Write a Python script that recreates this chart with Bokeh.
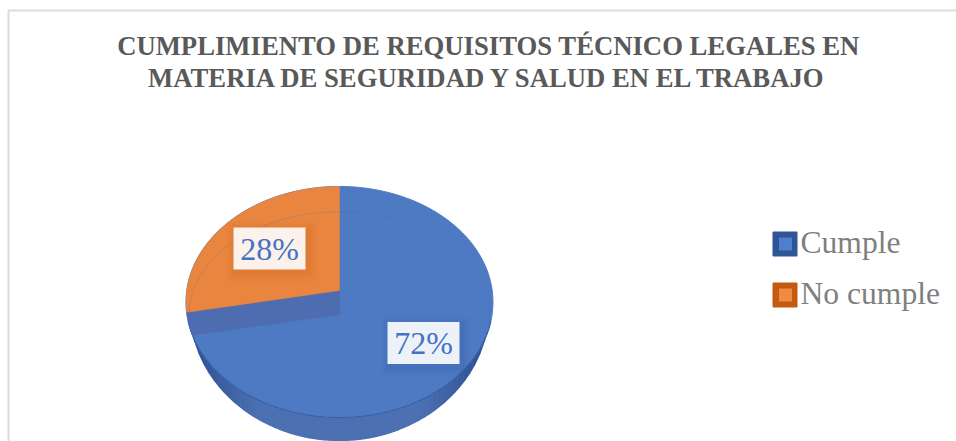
import numpy as np
from bokeh.plotting import figure
from bokeh.models import Range1d
from bokeh.core.properties import value
from bokeh.embed import file_html
from bokeh.resources import INLINE

title_lines = ["CUMPLIMIENTO DE REQUISITOS TÉCNICO LEGALES EN",
               "MATERIA DE SEGURIDAD Y SALUD EN EL TRABAJO"]
categories = ["Cumple", "No cumple"]
percent = [72, 28]

BLUE, ORANGE = "#4E7AC4", "#E9853F"
WALL = "#4E6DB0"
SERIF = value("Liberation Serif")

p = figure(width=956, height=441, x_range=Range1d(1, 957), y_range=Range1d(441, 0),
           output_backend="svg", toolbar_location=None, min_border=0,
           x_axis_location=None, y_axis_location=None, outline_line_color=None,
           background_fill_color="white", border_fill_color="white")
p.grid.visible = False
p.xaxis.visible = False
p.yaxis.visible = False

# chart frame, open at right and bottom
p.line([9, 9, 957], [441, 10, 10], line_color="#DCDCDC", line_width=2)

# perspective projection of the unit disc
CX, A = 340.0, 152.7
PERSP, YA, YB = 0.0996, -85.5, 290.0
DEPTH = 23.0


def project(theta, radius=1.0, ya=YA, yb=YB):
    """theta: clockwise from 12 o'clock, radians."""
    X, Y = radius * np.sin(theta), radius * np.cos(theta)
    w = PERSP * Y + 1
    return CX + A * X / w, (ya * Y + yb) / w


# outer silhouette of the side wall, as vertical strips shaded by x
SX, SY, SRX, SRY = 340.0, 306.0, 150.0, 134.0
edges = np.linspace(SX - SRX, SX + SRX, 61)
low = np.array([46, 80, 145])
high = np.array([76, 112, 178])
xs_s, ys_s, cols = [], [], []
for a, b in zip(edges[:-1], edges[1:]):
    ya = SY + SRY * np.sqrt(max(0, 1 - ((a - SX) / SRX) ** 2))
    yb = SY + SRY * np.sqrt(max(0, 1 - ((b - SX) / SRX) ** 2))
    xs_s.append([a, b, b, a])
    ys_s.append([SY, SY, yb, ya])
    t = 1 - abs((a + b) / 2 - SX) / SRX
    c = low + (high - low) * min(1, t * 2.2)
    cols.append("#%02x%02x%02x" % tuple(int(v) for v in c))
p.patches(xs_s, ys_s, fill_color=cols, line_color=cols, line_width=1.2)

# top face
full = np.linspace(0, 2 * np.pi, 361)
fx, fy = project(full)
p.patch(fx, fy, fill_color=BLUE, line_color=BLUE, line_width=1)
# darker lower rim
lower = np.linspace(np.radians(105), np.radians(255), 121)
rx_, ry_ = project(lower)
p.line(rx_, ry_, line_color="#3A62A8", line_width=1.2)

# the wedge of the second category, seen above its wall
start = 2 * np.pi * percent[0] / sum(percent)
ang = np.linspace(start, 2 * np.pi, 120)
wx, wy = project(ang)
cx0, cy0 = project(np.array([0.0]), radius=0.0)
ex, ey = wx[0], wy[0]

# wall under the wedge: ends where the rim has dropped by DEPTH
rim = np.linspace(np.radians(200), start, 200)
rimx, rimy = project(rim)
k = int(np.argmin(np.abs(rimy - (ey + DEPTH))))
p.patch([cx0[0], ex] + list(rimx[k:][::-1]) + [cx0[0]],
        [cy0[0], ey] + list(rimy[k:][::-1]) + [cy0[0] + DEPTH + 1],
        fill_color=WALL, line_color=WALL, line_width=0.5)
p.patch(np.r_[cx0, wx], np.r_[cy0, wy], fill_color=ORANGE, line_color=ORANGE, line_width=0.5)

# faint bevel ring
bev = np.linspace(np.radians(-100), np.radians(100), 200)
bx, by = project(bev, radius=0.98, ya=YA + 12, yb=YB + 14)
p.line(bx, by, line_color="#3F68AE", line_width=1, line_alpha=0.2)

# data labels with their glow
label_x = [424, 270]
label_y = [342.5, 248]
label_shadow = ["#2F5597", "#C55A11"]
for v, lx, ly, sc in zip(percent, label_x, label_y, label_shadow):
    for grow, al in [(9, 0.05), (6, 0.07), (3, 0.10)]:
        p.quad(left=lx - 36 - grow + 2, right=lx + 36 + grow + 2,
               top=ly - 21 - grow + 3, bottom=ly + 21 + grow + 3,
               fill_color=sc, fill_alpha=al, line_color=None)
    p.quad(left=lx - 36, right=lx + 36, top=ly - 21, bottom=ly + 21,
           fill_color="white", fill_alpha=0.9, line_color=None)
    p.text([lx], [ly], text=[f"{v}%"], text_font=SERIF, text_font_size="32px",
           text_color="#4472C4", text_align="center", text_baseline="middle")

# title
for line, y in zip(title_lines, [45, 77]):
    p.text([489], [y], text=[line], text_font=SERIF, text_font_size="26.7px",
           text_font_style="bold", text_color="#595959",
           text_align="center", text_baseline="middle")

# legend
legend_y = [243.5, 294.5]
legend_dark = ["#2F5597", "#C55A11"]
legend_light = ["#4E7FCC", "#ED8B45"]
for name, y, d, l in zip(categories, legend_y, legend_dark, legend_light):
    p.quad(left=774, right=797, top=y - 11.5, bottom=y + 11.5, fill_color=d,
           line_color=d, line_width=2, line_join="round")
    p.quad(left=779.5, right=792.5, top=y - 6.5, bottom=y + 6.5, fill_color=l, line_color=None)
    p.text([801], [y - 1.5], text=[name], text_font=SERIF, text_font_size="31.6px",
           text_color="#7F7F7F", text_align="left", text_baseline="middle")

open("out.html", "w").write(file_html(p, INLINE))
